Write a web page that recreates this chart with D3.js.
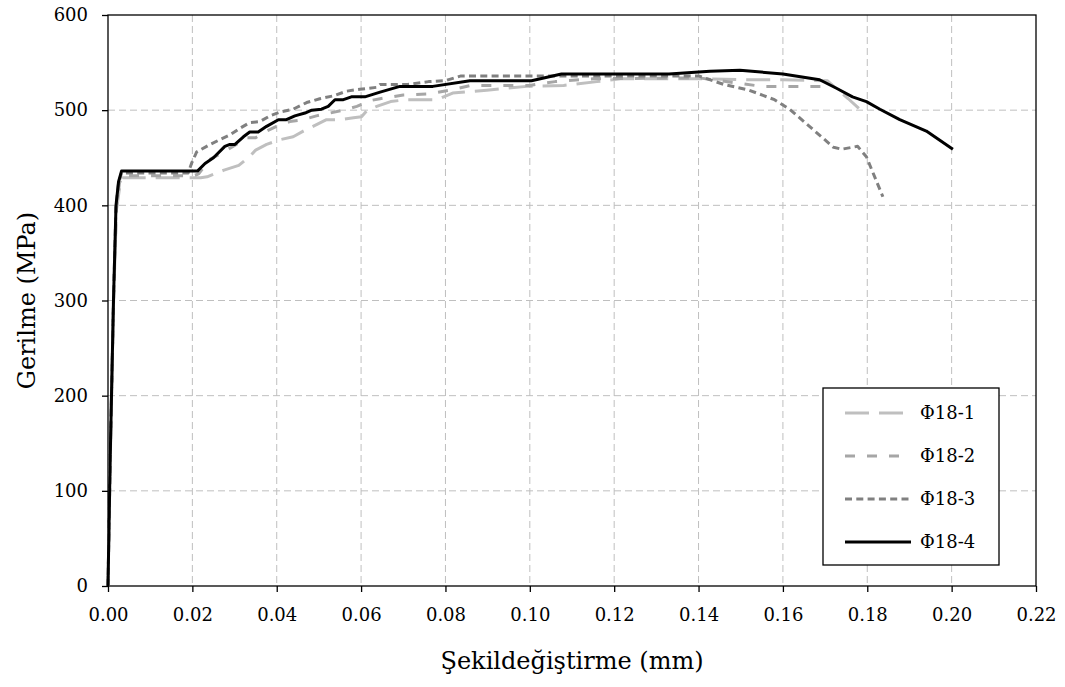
<!DOCTYPE html>
<html>
<head>
<meta charset="utf-8">
<script src="https://cdn.jsdelivr.net/npm/d3@7"></script>
<style>
  body { margin: 0; background: #fff; }
</style>
</head>
<body>
<div id="chart"></div>
<script>
// data (strain, stress MPa)
var xTicks = [0, 0.02, 0.04, 0.06, 0.08, 0.10, 0.12, 0.14, 0.16, 0.18, 0.20, 0.22];
var yTicks = [0, 100, 200, 300, 400, 500, 600];
var seriesNames = ["Φ18-1", "Φ18-2", "Φ18-3", "Φ18-4"];

var phi18_1 = [[0,0],[0.0005,125],[0.0013,295],[0.002,395],[0.0028,420],[0.0035,429],[0.022,429],[0.0235,430],
  [0.0275,437],[0.031,442],[0.0335,451],[0.035,458],[0.0376,464],[0.0408,469],[0.0439,472],[0.0463,478],
  [0.0486,483],[0.0518,490],[0.055,490],[0.0582,492],[0.0601,493],[0.0613,499],[0.0637,504],[0.067,509],
  [0.0706,511],[0.078,511],[0.0817,518],[0.0898,521],[0.0993,525],[0.108,526],[0.1159,530],[0.1215,533],
  [0.14,533],[0.15,532],[0.16,532],[0.1705,531],[0.1755,512],[0.178,502]];

var phi18_2 = [[0,0],[0.0005,128],[0.0013,298],[0.002,398],[0.0027,423],[0.0033,431],[0.0202,431],[0.0215,433],
  [0.024,448],[0.027,455],[0.0304,464],[0.0327,471],[0.035,471],[0.0376,478],[0.04,483],[0.0431,488],
  [0.0462,490],[0.0494,494],[0.0526,497],[0.0558,500],[0.059,504],[0.0621,510],[0.0645,512],[0.07,516],
  [0.076,517],[0.081,521],[0.086,526],[0.1,526],[0.106,530],[0.115,533],[0.14,534],[0.145,531],
  [0.15,528],[0.155,525],[0.1695,525]];

var phi18_3 = [[0,0],[0.0005,130],[0.0013,300],[0.0019,400],[0.0025,423],[0.0032,434],[0.019,434],[0.0198,444],
  [0.021,456],[0.0242,464],[0.0265,469],[0.0289,474],[0.0313,481],[0.0336,487],[0.036,488],[0.0384,494],
  [0.0408,498],[0.0439,501],[0.0471,508],[0.0502,512],[0.0534,515],[0.0566,520],[0.0597,522],[0.0637,524],
  [0.0645,527],[0.071,527],[0.076,530],[0.08,531],[0.0837,536],[0.1004,536],[0.12,536],[0.14,536],
  [0.146,527],[0.152,521],[0.158,511],[0.1616,501],[0.172,461],[0.174,459],[0.1777,462],[0.1798,451],[0.1837,409]];

var phi18_4 = [[0,0],[0.0005,130],[0.0013,300],[0.0019,400],[0.0025,425],[0.0032,436],[0.0212,436],[0.023,444],
  [0.025,450],[0.0277,462],[0.0289,464],[0.0301,464],[0.0321,472],[0.0336,477],[0.0356,477],[0.0376,483],
  [0.0404,490],[0.0423,490],[0.0443,494],[0.0467,497],[0.0483,500],[0.0506,501],[0.0522,504],[0.0538,511],
  [0.0558,511],[0.0577,514],[0.0609,514],[0.0645,519],[0.0692,525],[0.077,525],[0.0858,531],[0.1004,531],
  [0.1075,538],[0.133,538],[0.1427,541],[0.1498,542],[0.16,538],[0.1687,532],[0.1727,523],[0.1765,514],
  [0.1798,509],[0.183,501],[0.1877,490],[0.194,478],[0.2003,459]];

var seriesData = [phi18_1, phi18_2, phi18_3, phi18_4];
var seriesStyle = [
  { color: "#bfbfbf", dash: "24,10", width: 3 },
  { color: "#a6a6a6", dash: "10,12", width: 3 },
  { color: "#808080", dash: "7,4.3", width: 3 },
  { color: "#000000", dash: null, width: 3 }
];

// Liberation Serif is not picked up here, DejaVu Serif is
var fontFam = "'DejaVu Serif', serif";

var svgWidth = 1065, svgHeight = 687;
var margin = { top: 15, right: 29, bottom: 101, left: 108 };
var width = svgWidth - margin.left - margin.right;
var height = svgHeight - margin.top - margin.bottom;

var svg = d3.select("#chart").append("svg")
  .attr("width", svgWidth)
  .attr("height", svgHeight)
  .style("font-family", fontFam);

var chartGroup = svg.append("g")
  .attr("transform", `translate(${margin.left}, ${margin.top})`);

var xScale = d3.scaleLinear().domain([0, 0.22]).range([0, width]);
var yScale = d3.scaleLinear().domain([0, 600]).range([height, 0]);

// grid
chartGroup.append("g").selectAll("line")
  .data(xTicks.slice(1, -1))
  .enter().append("line")
  .attr("x1", d => xScale(d)).attr("x2", d => xScale(d))
  .attr("y1", 0).attr("y2", height)
  .attr("stroke", "#bfbfbf").attr("stroke-width", 1).attr("stroke-dasharray", "7,4");

chartGroup.append("g").selectAll("line")
  .data(yTicks.slice(1, -1))
  .enter().append("line")
  .attr("x1", 0).attr("x2", width)
  .attr("y1", d => yScale(d)).attr("y2", d => yScale(d))
  .attr("stroke", "#bfbfbf").attr("stroke-width", 1).attr("stroke-dasharray", "7,4");

// axes
var bottomAxis = d3.axisBottom(xScale).tickValues(xTicks).tickFormat(d3.format(".2f"))
  .tickSizeInner(6).tickSizeOuter(0).tickPadding(16);
var leftAxis = d3.axisLeft(yScale).tickValues(yTicks).tickFormat(d3.format("d"))
  .tickSizeInner(6).tickSizeOuter(0).tickPadding(14);

var xAxisG = chartGroup.append("g")
  .attr("transform", `translate(0, ${height})`)
  .call(bottomAxis);
var yAxisG = chartGroup.append("g").call(leftAxis);

[xAxisG, yAxisG].forEach(g => {
  g.attr("font-family", null);
  g.select(".domain").remove();
  g.selectAll(".tick line").attr("stroke", "#000").attr("stroke-width", 1.3);
  g.selectAll("text").attr("fill", "#000").style("font-family", fontFam).attr("font-size", 18);
});

// frame
chartGroup.append("rect")
  .attr("width", width).attr("height", height)
  .attr("fill", "none").attr("stroke", "#000").attr("stroke-width", 1.3);

// lines
var line = d3.line().x(d => xScale(d[0])).y(d => yScale(d[1]));

seriesData.forEach((data, i) => {
  chartGroup.append("path")
    .datum(data)
    .attr("d", line)
    .attr("fill", "none")
    .attr("stroke", seriesStyle[i].color)
    .attr("stroke-width", seriesStyle[i].width)
    .attr("stroke-linejoin", "round")
    .attr("stroke-dasharray", seriesStyle[i].dash);
});

// titles
svg.append("text")
  .attr("text-anchor", "middle")
  .attr("x", margin.left + width / 2)
  .attr("y", 669)
  .attr("font-size", 24)
  .text("Şekildeğiştirme (mm)");

svg.append("text")
  .attr("text-anchor", "middle")
  .attr("transform", `translate(35, ${margin.top + height / 2})rotate(-90)`)
  .attr("font-size", 24)
  .text("Gerilme (MPa)");

// legend
var legend = svg.append("g").attr("transform", "translate(823, 388)");
legend.append("rect")
  .attr("width", 176).attr("height", 177)
  .attr("fill", "#fff").attr("stroke", "#000").attr("stroke-width", 1.3);

var legendItems = legend.selectAll(".item")
  .data(seriesNames)
  .enter().append("g")
  .attr("transform", (d, i) => `translate(0, ${25 + i * 43})`);

legendItems.append("line")
  .attr("x1", 22).attr("x2", 88)
  .attr("stroke", (d, i) => seriesStyle[i].color)
  .attr("stroke-width", 3)
  .attr("stroke-dasharray", (d, i) => seriesStyle[i].dash);

legendItems.append("text")
  .attr("x", 97)
  .attr("dy", "0.35em")
  .attr("font-size", 18)
  .text(d => d);
</script>
</body>
</html>
